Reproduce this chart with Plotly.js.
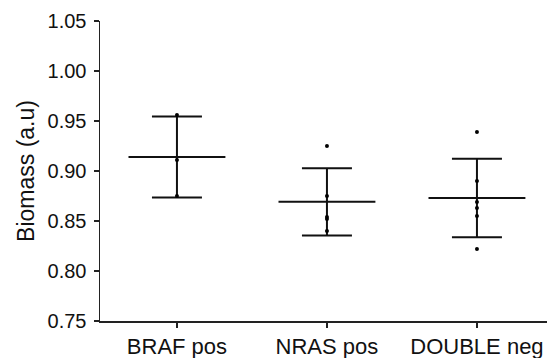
<!DOCTYPE html>
<html>
<head>
<meta charset="utf-8">
<script src="https://cdn.plot.ly/plotly-3.0.1.min.js"></script>
<style>html,body{margin:0;padding:0;background:#fff;}#chart{width:547px;height:358px;}</style>
</head>
<body>
<div id="chart"></div>
<script>
const categories = ["BRAF pos", "NRAS pos", "DOUBLE neg"];
const brafValues = [0.956, 0.911, 0.875];
const nrasValues = [0.925, 0.875, 0.854, 0.852, 0.840];
const doubleValues = [0.939, 0.890, 0.869, 0.863, 0.855, 0.822];
const yTickVals = [0.75, 0.80, 0.85, 0.90, 0.95, 1.00, 1.05];

const groups = [brafValues, nrasValues, doubleValues];
function mean(a){return a.reduce((s,v)=>s+v,0)/a.length;}
function sd(a){const m=mean(a);return Math.sqrt(a.reduce((s,v)=>s+(v-m)*(v-m),0)/(a.length-1));}
const means = groups.map(mean);
const sds = groups.map(sd);
const idx = categories.map((c,i)=>i);

const traces = [];
traces.push({
  type:'scatter', mode:'markers', x: idx, y: means,
  marker:{size:1, color:'rgba(0,0,0,0)'},
  error_y:{type:'data', array: sds, visible:true, width:25, thickness:2, color:'#111'},
  error_x:{type:'data', array: idx.map(()=>0.323), visible:true, width:0, thickness:2, color:'#111'},
  hoverinfo:'skip', showlegend:false
});
groups.forEach((g,i)=>{
  traces.push({
    type:'scatter', mode:'markers', x: g.map(()=>i), y: g,
    marker:{size:4, color:'#000'}, showlegend:false
  });
});

const layout = {
  width:547, height:358,
  margin:{l:100, r:0, t:21, b:37},
  paper_bgcolor:'#fff', plot_bgcolor:'#fff',
  font:{family:'"Liberation Sans", Arial, sans-serif', color:'#111', size:20},
  showlegend:false,
  xaxis:{
    range:[-0.513, 2.467], tickvals: idx, ticktext: categories,
    showgrid:false, zeroline:false, showline:true, linecolor:'#222', linewidth:1.5,
    ticks:'outside', ticklen:5, tickwidth:1.5, tickcolor:'#222',
    tickfont:{size:22}
  },
  yaxis:{
    range:[0.75, 1.05], tickvals: yTickVals, tickformat:'.2f',
    showgrid:false, zeroline:false, showline:true, linecolor:'#222', linewidth:1.5,
    ticks:'outside', ticklen:5, tickwidth:1.5, tickcolor:'#222',
    tickfont:{size:20}, ticklabelstandoff:3,
    title:{text:'Biomass (a.u)', font:{size:23}, standoff:6}
  }
};
Plotly.newPlot('chart', traces, layout, {staticPlot:true, displayModeBar:false});
</script>
</body>
</html>
